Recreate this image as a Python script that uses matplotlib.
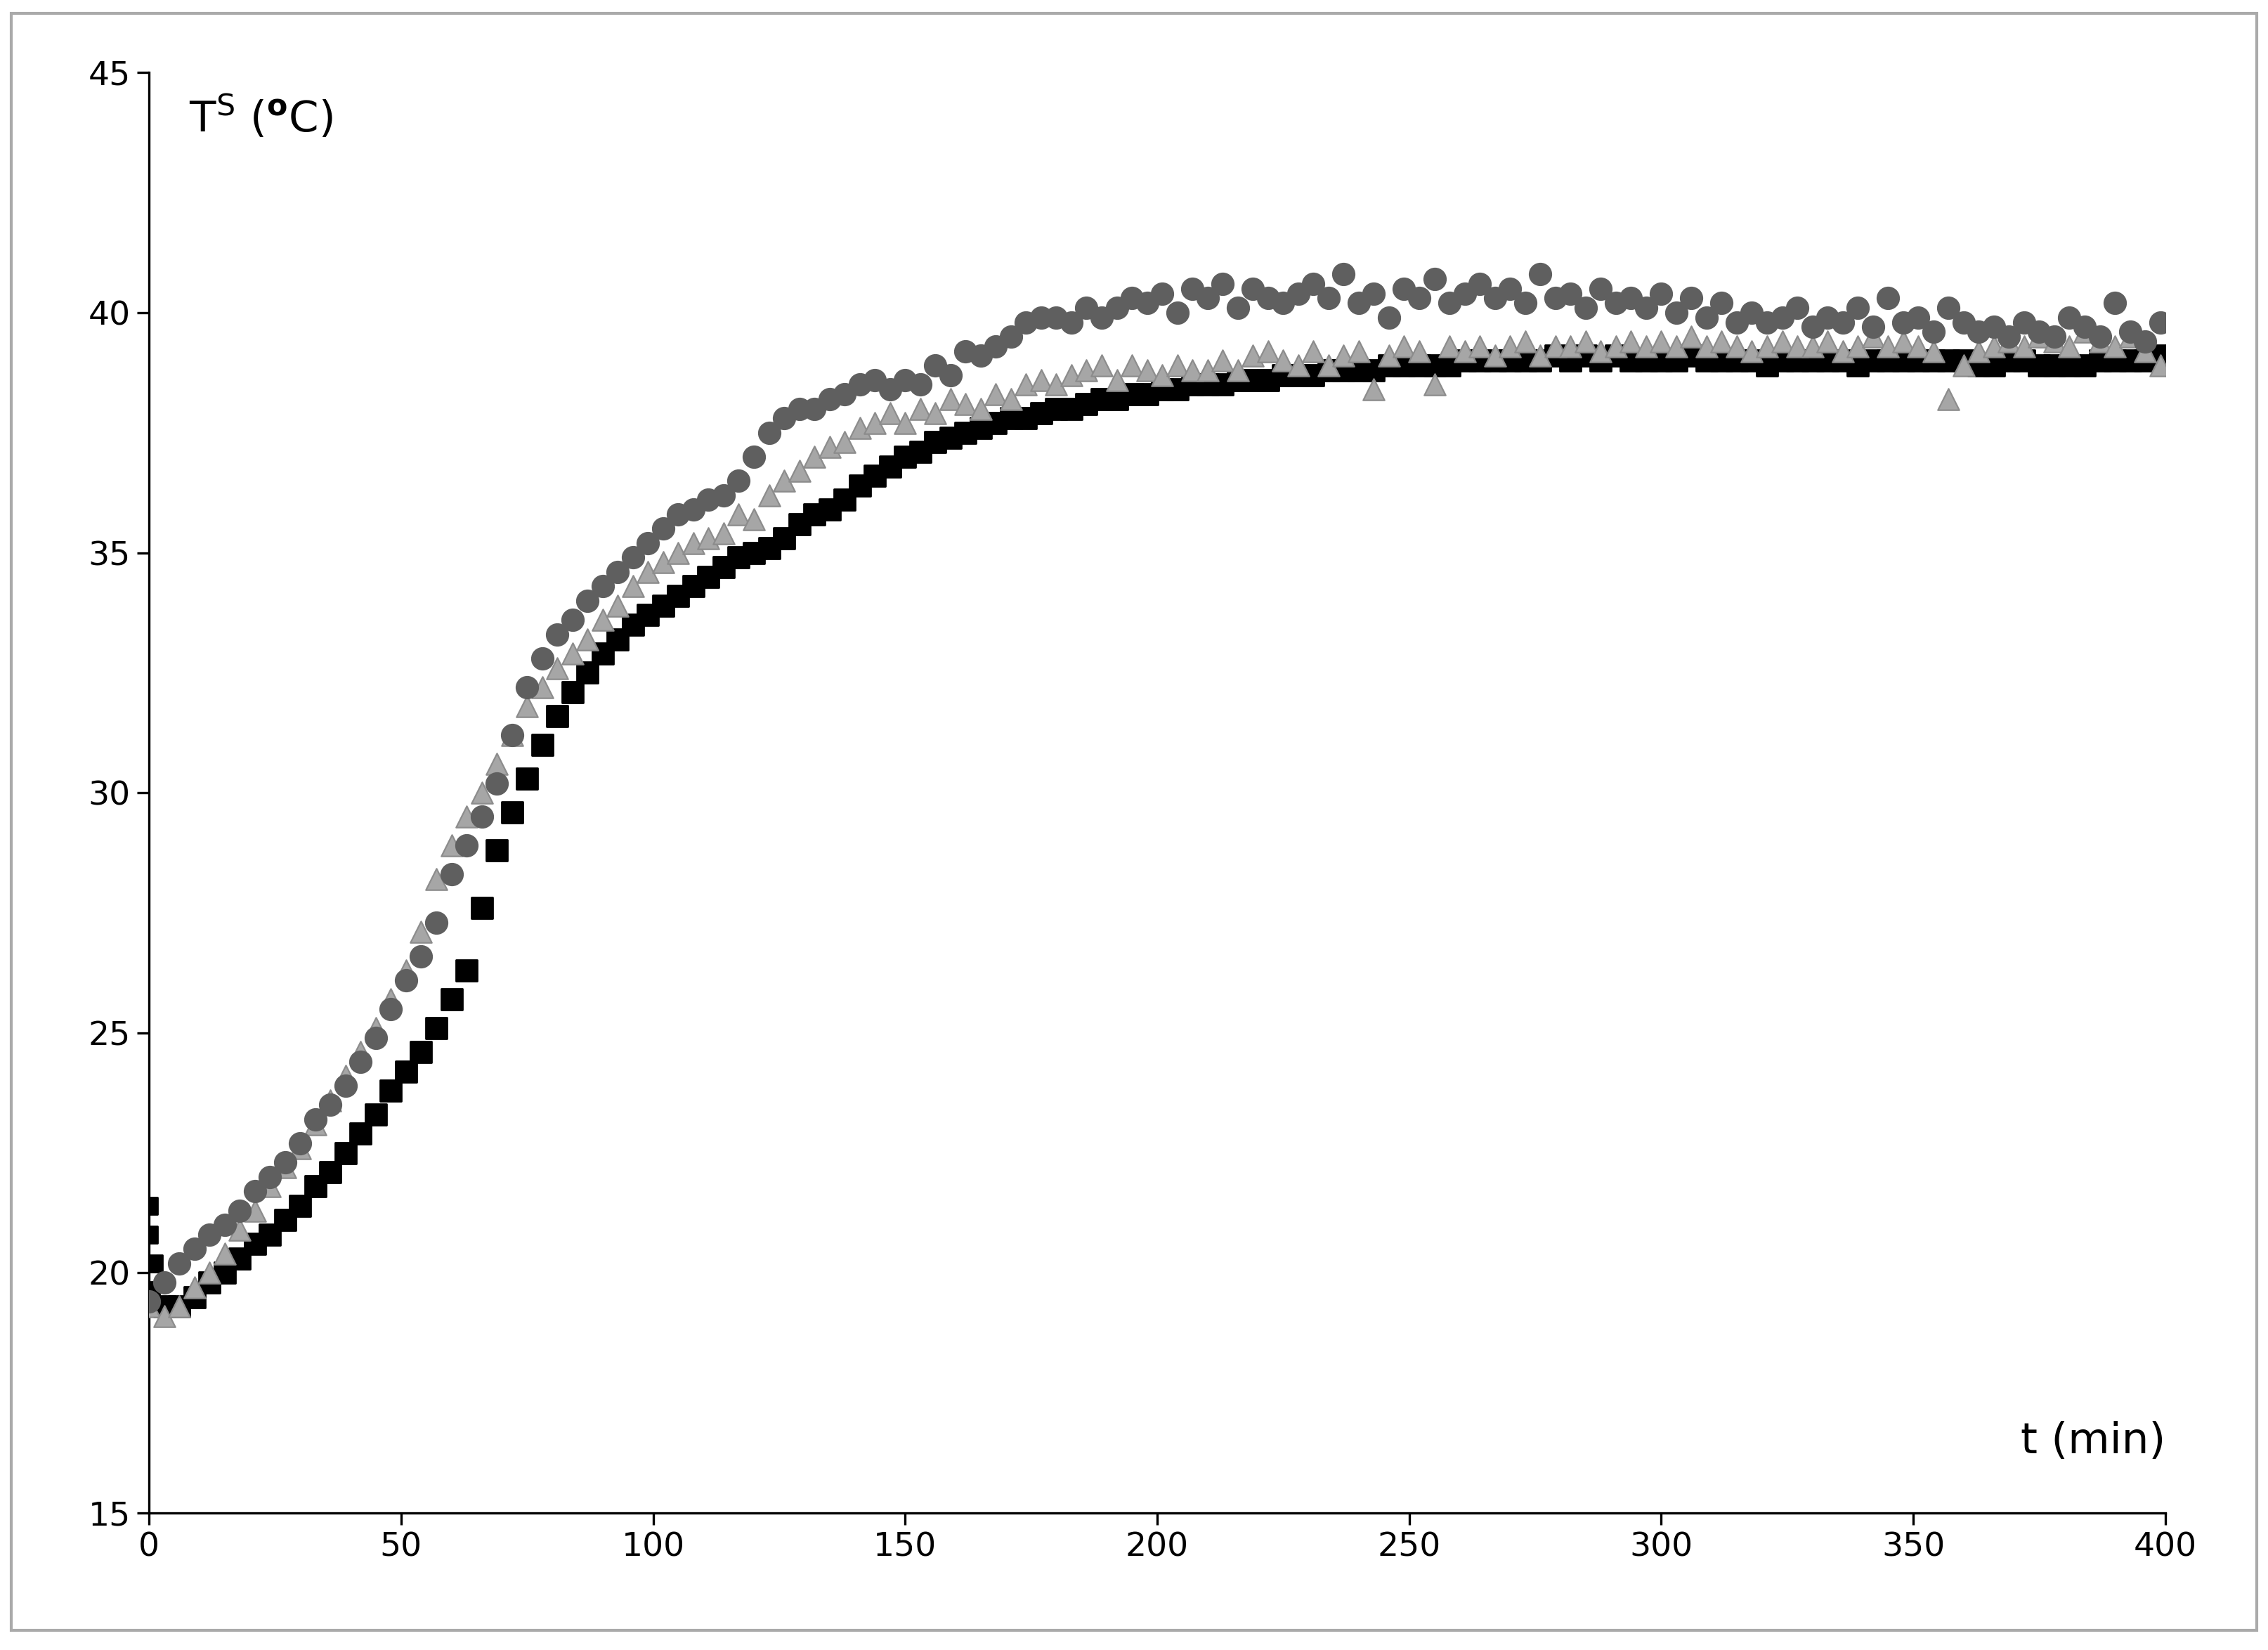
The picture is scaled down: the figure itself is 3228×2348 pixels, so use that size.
import numpy as np
import matplotlib
matplotlib.use("Agg")
import matplotlib.pyplot as plt
from matplotlib.patches import Rectangle

t = np.arange(0, 400, 3)

black = [19.6,19.3,19.3,19.5,19.8,20.0,20.3,20.6,20.8,21.1,
21.4,21.8,22.1,22.5,22.9,23.3,23.8,24.2,24.6,25.1,
25.7,26.3,27.6,28.8,29.6,30.3,31.0,31.6,32.1,32.5,
32.9,33.2,33.5,33.7,33.9,34.1,34.3,34.5,34.7,34.9,
35.0,35.1,35.3,35.6,35.8,35.9,36.1,36.4,36.6,36.8,
37.0,37.1,37.3,37.4,37.5,37.6,37.7,37.8,37.8,37.9,
38.0,38.0,38.1,38.2,38.2,38.3,38.3,38.4,38.4,38.5,
38.5,38.5,38.6,38.6,38.6,38.7,38.7,38.7,38.8,38.8,
38.8,38.8,38.9,38.9,38.9,38.9,38.9,39.0,39.0,39.0,
39.0,39.0,39.0,39.1,39.0,39.1,39.0,39.1,39.0,39.0,
39.0,39.0,39.1,39.0,39.0,39.0,39.0,38.9,39.0,39.0,
39.0,39.0,39.0,38.9,39.0,39.0,39.0,39.0,39.0,39.0,
39.0,38.9,38.9,39.0,39.0,38.9,38.9,38.9,38.9,39.0,
39.0,39.0,39.0,39.1]
black_extra_t = [0, 0, 1]
black_extra_v = [21.4, 20.8, 20.2]

circles = [19.4,19.8,20.2,20.5,20.8,21.0,21.3,21.7,22.0,22.3,
22.7,23.2,23.5,23.9,24.4,24.9,25.5,26.1,26.6,27.3,
28.3,28.9,29.5,30.2,31.2,32.2,32.8,33.3,33.6,34.0,
34.3,34.6,34.9,35.2,35.5,35.8,35.9,36.1,36.2,36.5,
37.0,37.5,37.8,38.0,38.0,38.2,38.3,38.5,38.6,38.4,
38.6,38.5,38.9,38.7,39.2,39.1,39.3,39.5,39.8,39.9,
39.9,39.8,40.1,39.9,40.1,40.3,40.2,40.4,40.0,40.5,
40.3,40.6,40.1,40.5,40.3,40.2,40.4,40.6,40.3,40.8,
40.2,40.4,39.9,40.5,40.3,40.7,40.2,40.4,40.6,40.3,
40.5,40.2,40.8,40.3,40.4,40.1,40.5,40.2,40.3,40.1,
40.4,40.0,40.3,39.9,40.2,39.8,40.0,39.8,39.9,40.1,
39.7,39.9,39.8,40.1,39.7,40.3,39.8,39.9,39.6,40.1,
39.8,39.6,39.7,39.5,39.8,39.6,39.5,39.9,39.7,39.5,
40.2,39.6,39.4,39.8]

triangles = [19.3,19.1,19.3,19.7,20.0,20.4,20.9,21.3,21.8,22.2,
22.6,23.1,23.6,24.1,24.6,25.1,25.7,26.3,27.1,28.2,
28.9,29.5,30.0,30.6,31.2,31.8,32.2,32.6,32.9,33.2,
33.6,33.9,34.3,34.6,34.8,35.0,35.2,35.3,35.4,35.8,
35.7,36.2,36.5,36.7,37.0,37.2,37.3,37.6,37.7,37.9,
37.7,38.0,37.9,38.2,38.1,38.0,38.3,38.2,38.5,38.6,
38.5,38.7,38.8,38.9,38.6,38.9,38.8,38.7,38.9,38.8,
38.8,39.0,38.8,39.1,39.2,39.0,38.9,39.2,38.9,39.1,
39.2,38.4,39.1,39.3,39.2,38.5,39.3,39.2,39.3,39.1,
39.3,39.4,39.1,39.3,39.3,39.4,39.2,39.3,39.4,39.3,
39.4,39.3,39.5,39.3,39.4,39.3,39.2,39.3,39.4,39.3,
39.3,39.4,39.2,39.3,39.5,39.3,39.4,39.3,39.2,38.2,
38.9,39.2,39.3,39.4,39.3,39.5,39.4,39.3,39.6,39.4,
39.3,39.5,39.2,38.9]

fig = plt.figure(figsize=(16.14, 11.74), dpi=200)
ax = fig.add_axes([0.0657, 0.083, 0.889, 0.873])
ax.scatter(t, black, marker='s', s=110, color='black', zorder=2)
ax.scatter(black_extra_t, black_extra_v, marker='s', s=80, color='black', zorder=2)
ax.scatter(t, triangles, marker='^', s=120, color='#a6a6a6', edgecolors='#8c8c8c', linewidths=0.8, zorder=3)
ax.scatter(t, circles, marker='o', s=120, color='#5f5f5f', zorder=4)

ax.set_xlim(0, 400)
ax.set_ylim(15, 45)
ax.set_xticks(range(0, 401, 50))
ax.set_yticks(range(15, 46, 5))
for s in ['top', 'right']:
    ax.spines[s].set_visible(False)
for s in ['left', 'bottom']:
    ax.spines[s].set_color('black')
    ax.spines[s].set_linewidth(1.2)
ax.tick_params(axis='both', labelsize=17, direction='out', length=6, width=1.2)
ax.text(0.02, 0.985, r'T$^{\mathregular{S}}$ ($^{\mathbf{o}}$C)', transform=ax.transAxes,
        fontsize=22, va='top', ha='left')
ax.text(1.0, 0.035, 't (min)', transform=ax.transAxes, fontsize=22, ha='right', va='bottom')

fig.patches.append(Rectangle((0.005, 0.012), 0.99, 0.98, transform=fig.transFigure,
                             fill=False, edgecolor='#aaaaaa', linewidth=1.5))
fig.savefig('out.png', dpi=200)
